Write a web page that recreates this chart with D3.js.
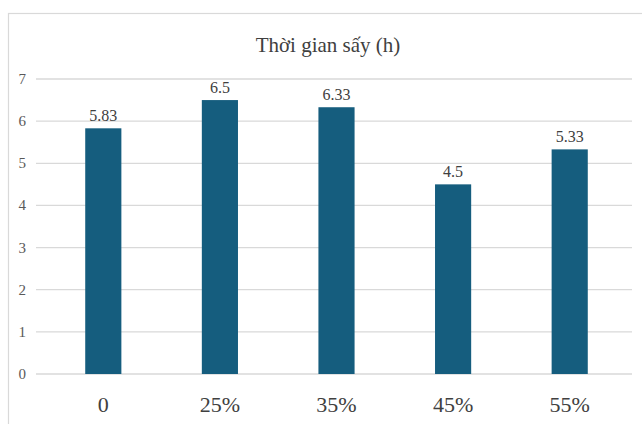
<!DOCTYPE html>
<html>
<head>
<meta charset="utf-8">
<script src="https://cdn.jsdelivr.net/npm/d3@7.9.0/dist/d3.min.js"></script>
<style>
  body { margin: 0; background: #fff; }
  svg { display: block; }
</style>
</head>
<body>
<svg width="642" height="424"></svg>
<script>
const categories = ['0', '25%', '35%', '45%', '55%'];
const values = [5.83, 6.5, 6.33, 4.5, 5.33];
const valueLabels = ['5.83', '6.5', '6.33', '4.5', '5.33'];
const yTicks = [0, 1, 2, 3, 4, 5, 6, 7];
const title = 'Thời gian sấy (h)';

const svg = d3.select('svg');
const font = "'Liberation Serif'";

// chart frame
svg.append('rect')
  .attr('x', 8.5).attr('y', 13.5)
  .attr('width', 700).attr('height', 500)
  .attr('fill', 'none')
  .attr('stroke', '#d9d9d9')
  .attr('stroke-width', 1.2);

const x = d3.scaleBand().domain(categories).range([45, 628]).paddingInner(0.69).paddingOuter(0.345);
const y = d3.scaleLinear().domain([0, 7]).range([374, 79]);

// gridlines
svg.append('g')
  .selectAll('line')
  .data(yTicks)
  .join('line')
  .attr('x1', 36).attr('x2', 632)
  .attr('y1', d => y(d)).attr('y2', d => y(d))
  .attr('stroke', '#d9d9d9')
  .attr('stroke-width', 1.3);

// y tick labels
svg.append('g')
  .selectAll('text')
  .data(yTicks)
  .join('text')
  .attr('x', 26)
  .attr('y', d => y(d) + 5)
  .attr('text-anchor', 'end')
  .style('font-family', font)
  .style('font-size', '15px')
  .attr('fill', '#595959')
  .text(d => d);

// bars
svg.append('g')
  .selectAll('rect')
  .data(values)
  .join('rect')
  .attr('x', (d, i) => x(categories[i]))
  .attr('y', d => y(d))
  .attr('width', x.bandwidth())
  .attr('height', d => y(0) - y(d))
  .attr('fill', '#155d7e');

// value labels
svg.append('g')
  .selectAll('text')
  .data(values)
  .join('text')
  .attr('x', (d, i) => x(categories[i]) + x.bandwidth() / 2)
  .attr('y', d => y(d) - 7)
  .attr('text-anchor', 'middle')
  .style('font-family', font)
  .style('font-size', '16px')
  .attr('fill', '#404040')
  .text((d, i) => valueLabels[i]);

// x labels
svg.append('g')
  .selectAll('text')
  .data(categories)
  .join('text')
  .attr('x', d => x(d) + x.bandwidth() / 2)
  .attr('y', 412)
  .attr('text-anchor', 'middle')
  .style('font-family', font)
  .style('font-size', '22px')
  .attr('fill', '#404040')
  .text(d => d);

// title
svg.append('text')
  .attr('x', 328)
  .attr('y', 52)
  .attr('text-anchor', 'middle')
  .style('font-family', font)
  .style('font-size', '21px')
  .attr('fill', '#404040')
  .text(title);
</script>
</body>
</html>
